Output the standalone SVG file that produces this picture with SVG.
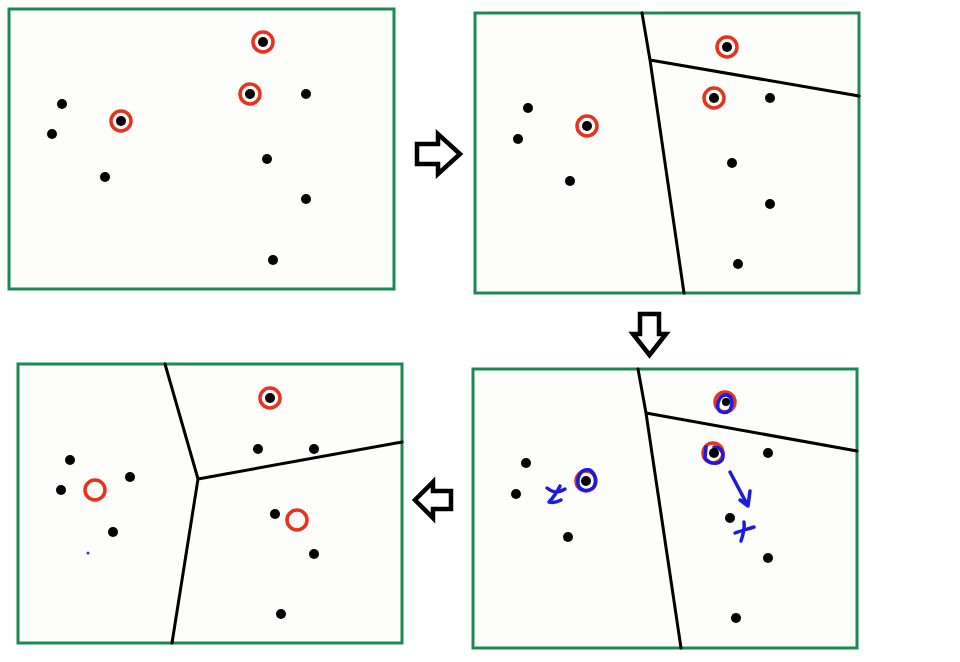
<svg xmlns="http://www.w3.org/2000/svg" width="960" height="662" viewBox="0 0 960 662">
<style>
.panel{fill:#fdfdfc;stroke:#1a8a55;stroke-width:3}
.div{stroke:#000;stroke-width:3;fill:none;stroke-linecap:round}
.pt{fill:#000}
.ring{fill:none;stroke:#e8321e;stroke-width:3.5}
.blue{fill:none;stroke:#1a1ae0;stroke-width:3.5;stroke-linecap:round;stroke-linejoin:round}
.arr{fill:#fff;stroke:#000;stroke-width:4.5;stroke-linejoin:miter}
</style>
<rect width="960" height="662" fill="#fff"/>
<g id="panel1">
<rect class="panel" x="9" y="9" width="385" height="280"/>
<circle class="ring" cx="121" cy="121" r="10"/>
<circle class="ring" cx="263" cy="42" r="10"/>
<circle class="ring" cx="250" cy="94" r="10"/>
<circle class="pt" cx="62" cy="104" r="5"/>
<circle class="pt" cx="52" cy="134" r="5"/>
<circle class="pt" cx="105" cy="177" r="5"/>
<circle class="pt" cx="121" cy="121" r="5"/>
<circle class="pt" cx="263" cy="42" r="5"/>
<circle class="pt" cx="250" cy="94" r="5"/>
<circle class="pt" cx="306" cy="94" r="5"/>
<circle class="pt" cx="267" cy="159" r="5"/>
<circle class="pt" cx="306" cy="199" r="5"/>
<circle class="pt" cx="273" cy="260" r="5"/>
</g>
<g id="panel2">
<rect class="panel" x="475" y="13" width="384" height="280"/>
<path class="div" d="M642 13 L650 60 L684 293 M650 60 L859 96"/>
<circle class="ring" cx="587" cy="126" r="10"/>
<circle class="ring" cx="727" cy="47" r="10"/>
<circle class="ring" cx="714" cy="98" r="10"/>
<circle class="pt" cx="528" cy="108" r="5"/>
<circle class="pt" cx="518" cy="139" r="5"/>
<circle class="pt" cx="570" cy="181" r="5"/>
<circle class="pt" cx="587" cy="126" r="5"/>
<circle class="pt" cx="727" cy="47" r="5"/>
<circle class="pt" cx="714" cy="98" r="5"/>
<circle class="pt" cx="770" cy="98" r="5"/>
<circle class="pt" cx="732" cy="163" r="5"/>
<circle class="pt" cx="770" cy="204" r="5"/>
<circle class="pt" cx="738" cy="264" r="5"/>
</g>
<g id="panel3">
<rect class="panel" x="473" y="369" width="384" height="279"/>
<path class="div" d="M638 369 L646 413 L681 648 M646 413 L857 451"/>
<circle class="ring" cx="586" cy="481" r="10"/>
<circle class="ring" cx="725" cy="402" r="10"/>
<circle class="ring" cx="713" cy="453" r="10"/>
<path class="blue" d="M590 470 C580 468 577 478 578 484 C579 491 588 492 593 488 C597 483 596 474 590 470"/>
<path class="blue" d="M727 395 C720 394 717 402 718 408 C719 413 726 414 730 410 C733 405 733 397 727 395"/>
<path class="blue" d="M706 447 L705 458 C709 464 718 465 722 460 C725 454 721 447 714 447"/>
<path class="blue" d="M547 488 C552 492 556 494 565 489 M560 486 C557 492 553 498 549 502 C553 503 557 502 561 500"/>
<path class="blue" d="M735 533 C740 531 748 529 754 527 M744 522 C745 529 743 535 741 541"/>
<path class="blue" d="M730 472 L748 506 M740 500 L748 506 L750 491"/>
<circle class="pt" cx="526" cy="463" r="5"/>
<circle class="pt" cx="516" cy="494" r="5"/>
<circle class="pt" cx="568" cy="537" r="5"/>
<circle class="pt" cx="586" cy="481" r="5"/>
<circle class="pt" cx="726" cy="402" r="4"/>
<circle class="pt" cx="714" cy="453" r="5"/>
<circle class="pt" cx="768" cy="453" r="5"/>
<circle class="pt" cx="730" cy="518" r="5"/>
<circle class="pt" cx="768" cy="558" r="5"/>
<circle class="pt" cx="736" cy="618" r="5"/>
</g>
<g id="panel4">
<rect class="panel" x="18" y="364" width="384" height="279"/>
<path class="div" d="M165 364 L198 479 L402 442 M198 479 L172 643"/>
<circle class="ring" cx="95" cy="490" r="10"/>
<circle class="ring" cx="270" cy="398" r="10"/>
<circle class="ring" cx="297" cy="520" r="10"/>
<circle class="pt" cx="70" cy="460" r="5"/>
<circle class="pt" cx="61" cy="490" r="5"/>
<circle class="pt" cx="113" cy="532" r="5"/>
<circle class="pt" cx="130" cy="477" r="5"/>
<circle class="pt" cx="270" cy="398" r="5"/>
<circle class="pt" cx="258" cy="449" r="5"/>
<circle class="pt" cx="314" cy="449" r="5"/>
<circle class="pt" cx="275" cy="514" r="5"/>
<circle class="pt" cx="314" cy="554" r="5"/>
<circle class="pt" cx="281" cy="614" r="5"/>
<circle cx="88" cy="553" r="1.5" fill="#3030e0"/>
</g>
<g id="connectors">
<path class="arr" d="M417 144 L438 144 L438 134 L460 154 L438 174 L438 164 L417 164 Z"/>
<path class="arr" d="M640 314 L659 314 L659 334 L666 334 L649.5 355 L633 334 L640 334 Z"/>
<path class="arr" d="M451 491 L433 491 L433 482 L415 500 L433 518 L433 509 L451 509 Z"/>
</g>
</svg>
